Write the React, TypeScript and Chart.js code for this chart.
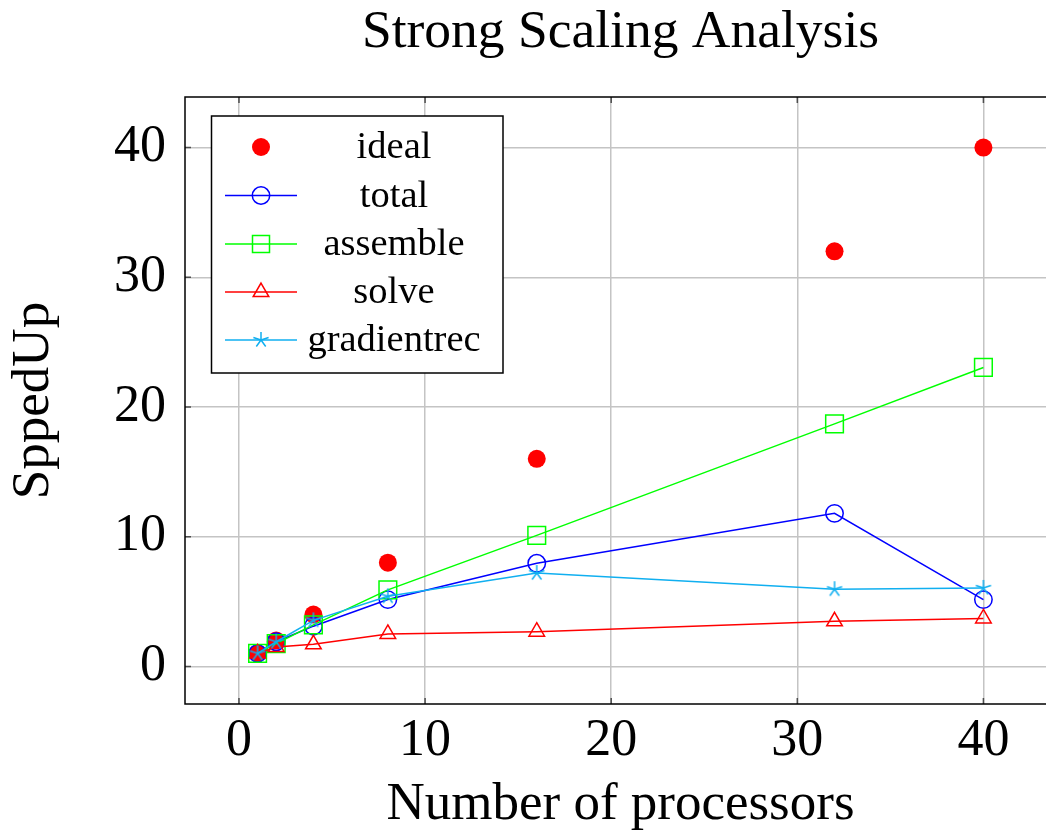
import React, { useEffect, useRef } from 'react';
import { Chart, registerables } from 'chart.js';

Chart.register(...registerables);

const processors = [1, 2, 4, 8, 16, 32, 40];
const ideal = [1, 2, 4, 8, 16, 32, 40];
const total = [1, 1.9, 3.1, 5.15, 7.95, 11.8, 5.15];
const assemble = [1, 1.75, 3.2, 5.9, 10.1, 18.7, 23.05];
const solve = [1, 1.5, 1.7, 2.5, 2.68, 3.48, 3.7];
const gradientrec = [1, 1.9, 3.55, 5.4, 7.2, 5.95, 6.05];

const xTicks = [0, 10, 20, 30, 40];
const yTicks = [0, 10, 20, 30, 40];
const xMin = -2.9;
const xMax = 43.9;
const yMin = -2.9;
const yMax = 43.9;

const titleText = 'Strong Scaling Analysis';
const xLabel = 'Number of processors';
const yLabel = 'SppedUp';
const seriesNames = ['ideal', 'total', 'assemble', 'solve', 'gradientrec'];

const FONT = "'Liberation Serif', 'Times New Roman', serif";
const RED = '#ff0000';
const BLUE = '#0000ff';
const GREEN = '#00ff00';
const SKY = '#10aff0';

function makeStar(color: string, r: number) {
  const size = Math.ceil(r * 2 + 4);
  const c = document.createElement('canvas');
  c.width = size;
  c.height = size;
  const g = c.getContext('2d')!;
  g.strokeStyle = color;
  g.lineWidth = 1.5;
  g.lineCap = 'butt';
  const cx = size / 2;
  const cy = size / 2;
  for (let k = 0; k < 5; k++) {
    const ang = -Math.PI / 2 + (k * 2 * Math.PI) / 5;
    g.beginPath();
    g.moveTo(cx, cy);
    g.lineTo(cx + Math.cos(ang) * r, cy + Math.sin(ang) * r);
    g.stroke();
  }
  return c;
}

function drawMarker(ctx: CanvasRenderingContext2D, kind: string, x: number, y: number, color: string) {
  ctx.save();
  ctx.strokeStyle = color;
  ctx.fillStyle = color;
  ctx.lineWidth = 1.5;
  ctx.beginPath();
  if (kind === 'dot') {
    ctx.arc(x, y, 9, 0, Math.PI * 2);
    ctx.fill();
  } else if (kind === 'circle') {
    ctx.arc(x, y, 8.7, 0, Math.PI * 2);
    ctx.stroke();
  } else if (kind === 'rect') {
    ctx.rect(x - 8.5, y - 8.5, 17, 17);
    ctx.stroke();
  } else if (kind === 'triangle') {
    const r = 9;
    for (let k = 0; k < 3; k++) {
      const ang = -Math.PI / 2 + (k * 2 * Math.PI) / 3;
      const px = x + Math.cos(ang) * r;
      const py = y + Math.sin(ang) * r;
      if (k === 0) ctx.moveTo(px, py);
      else ctx.lineTo(px, py);
    }
    ctx.closePath();
    ctx.stroke();
  } else if (kind === 'star') {
    for (let k = 0; k < 5; k++) {
      const ang = -Math.PI / 2 + (k * 2 * Math.PI) / 5;
      ctx.moveTo(x, y);
      ctx.lineTo(x + Math.cos(ang) * 8, y + Math.sin(ang) * 8);
    }
    ctx.stroke();
  }
  ctx.restore();
}

const overlayPlugin = {
  id: 'overlay',
  afterDraw(chart: any) {
    const { ctx, chartArea: a, scales } = chart;
    ctx.save();
    // tick marks
    ctx.strokeStyle = '#4d4d4d';
    ctx.lineWidth = 1.5;
    ctx.beginPath();
    xTicks.forEach((v) => {
      const x = scales.x.getPixelForValue(v);
      ctx.moveTo(x, a.bottom);
      ctx.lineTo(x, a.bottom - 6);
      ctx.moveTo(x, a.top);
      ctx.lineTo(x, a.top + 6);
    });
    yTicks.forEach((v) => {
      const y = scales.y.getPixelForValue(v);
      ctx.moveTo(a.left, y);
      ctx.lineTo(a.left + 6, y);
      ctx.moveTo(a.right, y);
      ctx.lineTo(a.right - 6, y);
    });
    ctx.stroke();
    // frame
    ctx.strokeStyle = '#000';
    ctx.lineWidth = 1.5;
    ctx.strokeRect(a.left, a.top, a.right - a.left, a.bottom - a.top);

    // titles
    ctx.fillStyle = '#000';
    ctx.font = `53.5px ${FONT}`;
    ctx.textAlign = 'center';
    ctx.textBaseline = 'alphabetic';
    const cx = (a.left + a.right) / 2;
    ctx.fillText(titleText, cx, 47);
    ctx.font = `53px ${FONT}`;
    ctx.fillText(xLabel, cx, 819);
    ctx.save();
    ctx.translate(48, (a.top + a.bottom) / 2);
    ctx.rotate(-Math.PI / 2);
    ctx.fillText(yLabel, 0, 0);
    ctx.restore();

    // legend
    const bx = 211.5, by = 116, bw = 291.5, bh = 257;
    ctx.fillStyle = '#fff';
    ctx.fillRect(bx, by, bw, bh);
    ctx.strokeStyle = '#000';
    ctx.lineWidth = 1.5;
    ctx.strokeRect(bx, by, bw, bh);
    const rows = [147, 195.5, 244, 292, 340];
    const kinds = ['dot', 'circle', 'rect', 'triangle', 'star'];
    const colors = [RED, BLUE, GREEN, RED, SKY];
    ctx.font = `38.5px ${FONT}`;
    rows.forEach((ry, i) => {
      if (i > 0) {
        ctx.strokeStyle = colors[i];
        ctx.lineWidth = 1.5;
        ctx.beginPath();
        ctx.moveTo(225, ry);
        ctx.lineTo(297, ry);
        ctx.stroke();
      }
      drawMarker(ctx, kinds[i], 261, ry, colors[i]);
      ctx.fillStyle = '#000';
      ctx.textAlign = 'center';
      ctx.textBaseline = 'middle';
      ctx.fillText(seriesNames[i], 394, ry + 1);
    });
    ctx.restore();
  },
};

export default function App() {
  const ref = useRef<HTMLCanvasElement | null>(null);

  useEffect(() => {
    const canvas = ref.current!;
    const star = makeStar(SKY, 8);
    const pts = (ys: number[]) => processors.map((x, i) => ({ x, y: ys[i] }));
    const common = {
      borderWidth: 1.5,
      pointBorderWidth: 1.5,
      pointBackgroundColor: 'rgba(0,0,0,0)',
      tension: 0,
      showLine: true,
    };
    const chart = new Chart(canvas, {
      type: 'scatter',
      data: {
        datasets: [
          {
            label: seriesNames[0],
            data: pts(ideal),
            showLine: false,
            pointStyle: 'circle',
            pointRadius: 9,
            pointBorderWidth: 0,
            pointBackgroundColor: RED,
            pointBorderColor: RED,
            order: 5,
          },
          {
            ...common,
            label: seriesNames[1],
            data: pts(total),
            borderColor: BLUE,
            pointBorderColor: BLUE,
            pointStyle: 'circle',
            pointRadius: 8.7,
            order: 4,
          },
          {
            ...common,
            label: seriesNames[2],
            data: pts(assemble),
            borderColor: GREEN,
            pointBorderColor: GREEN,
            pointStyle: 'rect',
            pointRadius: 12.5,
            order: 3,
          },
          {
            ...common,
            label: seriesNames[3],
            data: pts(solve),
            borderColor: RED,
            pointBorderColor: RED,
            pointStyle: 'triangle',
            pointRadius: 9,
            order: 2,
          },
          {
            ...common,
            label: seriesNames[4],
            data: pts(gradientrec),
            borderColor: SKY,
            pointBorderColor: SKY,
            pointStyle: star as any,
            pointRadius: 8,
            order: 1,
          },
        ],
      },
      options: {
        responsive: false,
        animation: false,
        events: [],
        layout: { padding: { top: 97, right: 10, left: 0, bottom: 0 } },
        plugins: {
          legend: { display: false },
          title: { display: false },
          tooltip: { enabled: false },
        },
        scales: {
          x: {
            type: 'linear',
            min: xMin,
            max: xMax,
            afterBuildTicks: (s: any) => {
              s.ticks = xTicks.map((v) => ({ value: v }));
            },
            afterFit: (s: any) => {
              s.height = 126;
            },
            grid: { color: '#c4c4c4', lineWidth: 1.5, drawTicks: false },
            border: { display: false },
            ticks: {
              color: '#000',
              padding: 6,
              maxRotation: 0,
              font: { family: FONT, size: 52 },
            },
          },
          y: {
            type: 'linear',
            min: yMin,
            max: yMax,
            afterBuildTicks: (s: any) => {
              s.ticks = yTicks.map((v) => ({ value: v }));
            },
            afterFit: (s: any) => {
              s.width = 185;
            },
            grid: { color: '#c4c4c4', lineWidth: 1.5, drawTicks: false },
            border: { display: false },
            ticks: {
              color: '#000',
              padding: 19,
              font: { family: FONT, size: 52 },
            },
          },
        },
      },
      plugins: [overlayPlugin],
    });
    return () => chart.destroy();
  }, []);

  return (
    <div style={{ position: 'absolute', left: 0, top: 0, width: 1046, height: 830, overflow: 'hidden', background: '#fff' }}>
      <canvas ref={ref} width={1070} height={830} style={{ display: 'block' }} />
    </div>
  );
}
